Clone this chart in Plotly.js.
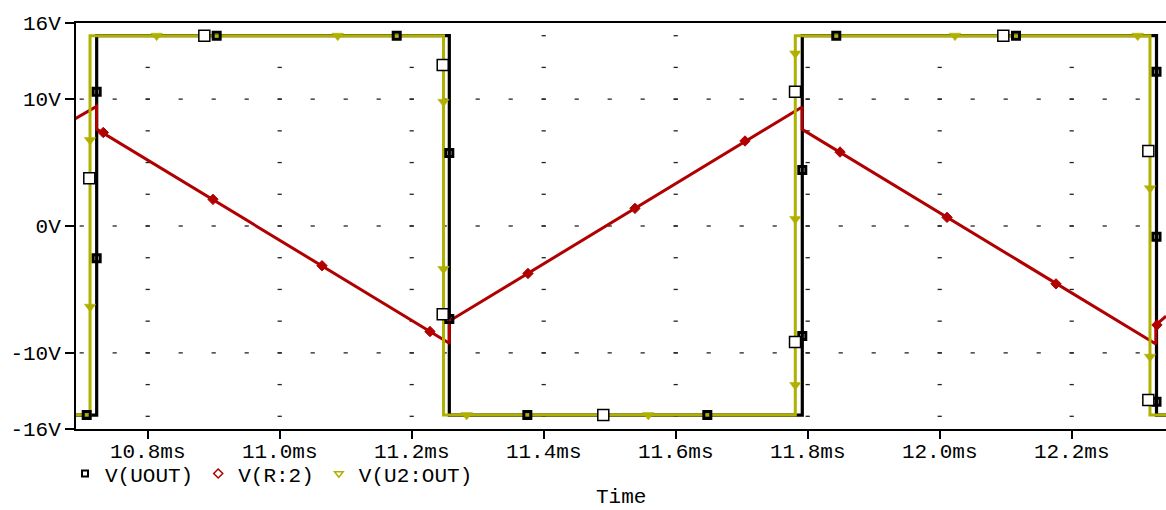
<!DOCTYPE html>
<html>
<head>
<meta charset="utf-8">
<script src="https://cdn.plot.ly/plotly-3.0.1.min.js"></script>
<style>html,body{margin:0;padding:0;background:#fff;}#chart{width:1166px;height:510px;}</style>
</head>
<body>
<div id="chart"></div>
<script>
// ---- data (time in ms, voltage in V) ----
const seriesNames = ['V(UOUT)', 'V(R:2)', 'V(U2:OUT)'];
const xAxisTitle = 'Time';

// V(UOUT) waveform
const tUout = [10.68, 10.7227, 10.7227, 11.257, 11.257, 11.7918, 11.7918, 12.3285, 12.3285, 12.35];
const vUout = [-14.9, -14.9, 15, 15, -14.9, -14.9, 15, 15, -14.9, -14.9];
// V(UOUT) small square markers
const tUoutMk = [10.7076, 10.7227, 10.7227, 10.9045, 11.1773, 11.257, 11.257, 11.3752, 11.6479, 11.7918, 11.7918, 11.8433, 12.1156, 12.3285, 12.3285, 12.3285];
const vUoutMk = [-14.9, 10.58, -2.55, 15, 15, 5.75, -7.33, -14.9, -14.9, 4.41, -8.67, 15, 15, 12.16, -0.84, -13.85];
// V(UOUT) large open square markers
const tUoutBig = [10.7115, 10.8858, 11.247, 11.247, 11.4903, 11.7808, 11.7808, 12.0964, 12.3161, 12.3161];
const vUoutBig = [3.76, 15, 12.69, -6.96, -14.9, 10.58, -9.14, 15, 5.91, -13.71];

// V(R:2) waveform
const tR2 = [10.688, 10.7225, 10.7225, 11.257, 11.257, 11.7915, 11.7915, 12.3275, 12.3275, 12.343];
const vR2 = [8.4, 9.43, 7.64, -9.24, -7.49, 9.38, 7.62, -9.3, -7.8, -7.1];
// V(R:2) diamond markers
const tR2Mk = [10.7327, 10.8989, 11.0641, 11.2277, 11.3762, 11.5383, 11.705, 11.849, 12.0111, 12.1762, 12.3292];
const vR2Mk = [7.37, 2.10, -3.13, -8.32, -3.74, 1.39, 6.70, 5.83, 0.68, -4.56, -7.80];

// V(U2:OUT) waveform
const tU2 = [10.68, 10.7126, 10.7126, 11.2482, 11.2482, 11.7812, 11.7812, 12.3186, 12.3186, 12.35];
const vU2 = [-14.9, -14.9, 15, 15, -14.9, -14.9, 15, 15, -14.9, -14.9];
// V(U2:OUT) triangle markers
const tU2Mk = [10.7126, 10.7126, 10.8136, 11.0879, 11.2482, 11.2482, 11.2833, 11.5585, 11.7812, 11.7812, 11.7812, 12.0232, 12.3, 12.3186, 12.3186];
const vU2Mk = [6.78, -6.36, 15, 15, 9.79, -3.39, -14.9, -14.9, 13.6, 0.55, -12.53, 15, 15, 2.97, -10.3];

// axis ticks
const xTickVals = [10.8, 11.0, 11.2, 11.4, 11.6, 11.8, 12.0, 12.2];
const xTickText = ['10.8ms', '11.0ms', '11.2ms', '11.4ms', '11.6ms', '11.8ms', '12.0ms', '12.2ms'];
const yTickVals = [16, 10, 0, -10, -16];
const yTickText = ['16V', '10V', '0V', '-10V', '-16V'];

// ---- colours / styles ----
const BLACK = '#000000';
const RED = '#b00000';
const OLIVE = '#b0b000';
const FONT = 'Liberation Mono, DejaVu Sans Mono, monospace';

// dotted grid (decoration): dots along major verticals every 2.5 V, along major horizontals every 0.05 ms
const gridX = [], gridY = [];
for (const t of xTickVals) {
  for (let k = -6; k <= 6; k++) { gridX.push(t); gridY.push(k * 2.5); }
}
for (const v of [-10, 0, 10]) {
  for (let k = 0; k <= 32; k++) { gridX.push(+(10.7 + k * 0.05).toFixed(3)); gridY.push(v); }
}

const traces = [
  { x: gridX, y: gridY, mode: 'markers', showlegend: false, hoverinfo: 'skip',
    marker: { symbol: 'line-ew-open', size: 3, color: '#222', line: { color: '#222', width: 1.3 } } },
  { x: tUout, y: vUout, mode: 'lines', showlegend: false, line: { color: BLACK, width: 3.2 } },
  { x: tR2, y: vR2, mode: 'lines', showlegend: false, line: { color: RED, width: 3 } },
  { x: tR2Mk, y: vR2Mk, mode: 'markers', showlegend: false,
    marker: { symbol: 'diamond', size: 8, color: RED, line: { color: RED, width: 1 } } },
  { x: tU2, y: vU2, mode: 'lines', showlegend: false, line: { color: OLIVE, width: 3 } },
  { x: tU2Mk, y: vU2Mk, mode: 'markers', showlegend: false,
    marker: { symbol: 'triangle-down', size: 10, color: OLIVE, line: { color: OLIVE, width: 0.5 } } },
  { x: tUoutMk, y: vUoutMk, mode: 'markers', showlegend: false,
    marker: { symbol: 'square-open', size: 7, color: BLACK, line: { color: BLACK, width: 3 } } },
  { x: tUoutBig, y: vUoutBig, mode: 'markers', showlegend: false,
    marker: { symbol: 'square', size: 11, color: '#ffffff', line: { color: BLACK, width: 1.5 } } },
  // legend entries
  { x: [null], y: [null], mode: 'markers', name: seriesNames[0],
    marker: { symbol: 'square-open', size: 6, color: BLACK, line: { color: BLACK, width: 2 } } },
  { x: [null], y: [null], mode: 'markers', name: seriesNames[1],
    marker: { symbol: 'diamond-open', size: 7, color: RED, line: { color: RED, width: 1.5 } } },
  { x: [null], y: [null], mode: 'markers', name: seriesNames[2],
    marker: { symbol: 'triangle-down-open', size: 7.5, color: OLIVE, line: { color: OLIVE, width: 1.5 } } }
];

const layout = {
  width: 1166, height: 510,
  margin: { l: 76, r: 0, t: 23, b: 81, autoexpand: false },
  paper_bgcolor: '#ffffff', plot_bgcolor: '#ffffff',
  font: { family: FONT, size: 21, color: '#000' },
  showlegend: true,
  legend: { orientation: 'h', x: -0.0101, xanchor: 'left', y: -0.060, yanchor: 'top',
            font: { family: FONT, size: 21, color: '#000' }, bgcolor: 'rgba(0,0,0,0)',
            itemclick: false, itemdoubleclick: false, tracegroupgap: 0 },
  xaxis: {
    range: [10.69136, 12.34288], showgrid: false, zeroline: false,
    showline: true, linecolor: '#000', linewidth: 2, mirror: true,
    ticks: 'outside', ticklen: 8, tickwidth: 2, tickcolor: '#000',
    tickmode: 'array', tickvals: xTickVals, ticktext: xTickText,
    ticklabelstandoff: -6,
    tickfont: { family: FONT, size: 21, color: '#000' }
  },
  yaxis: {
    range: [-16, 16], showgrid: false, zeroline: false,
    showline: true, linecolor: '#000', linewidth: 2,
    ticks: 'outside', ticklen: 9, tickwidth: 2, tickcolor: '#000',
    tickmode: 'array', tickvals: yTickVals, ticktext: yTickText,
    tickfont: { family: FONT, size: 21, color: '#000' }
  },
  annotations: [
    { text: xAxisTitle, xref: 'paper', yref: 'paper', x: 0.5, y: -0.1985,
      xanchor: 'center', yanchor: 'bottom', showarrow: false, borderpad: 0,
      font: { family: FONT, size: 21, color: '#000' } }
  ]
};

Plotly.newPlot('chart', traces, layout, { staticPlot: true, displayModeBar: false });
</script>
</body>
</html>
